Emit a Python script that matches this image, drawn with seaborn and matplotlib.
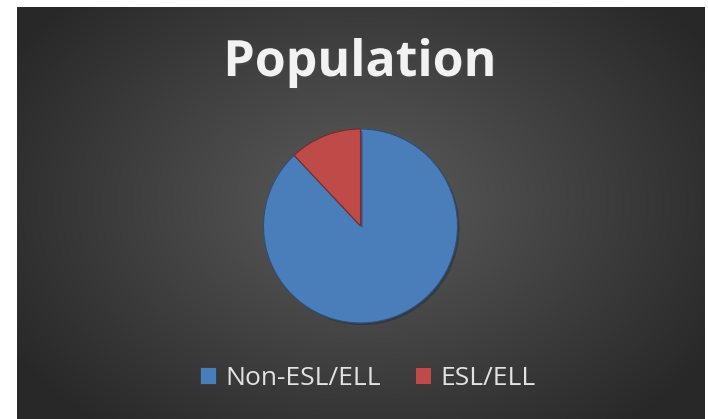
import numpy as np
import matplotlib
matplotlib.use("Agg")
import matplotlib.pyplot as plt
import matplotlib.patheffects as pe
import seaborn as sns
from matplotlib.patches import Patch

# data
groups = ["Non-ESL/ELL", "ESL/ELL"]
shares = [88, 12]
slice_colors = ["#4a7ebb", "#be4b48"]
title = "Population"

sns.set_theme(style="white")
plt.rcParams["font.family"] = ["Open Sans", "DejaVu Sans"]

W, H = 708, 419
fig = plt.figure(figsize=(W / 100, H / 100), dpi=100)
fig.patch.set_facecolor("white")

# dark panel with radial gradient (x 17..705, y 7..419)
x0, x1, y0, y1 = 17, 705, 7, 419
bg = fig.add_axes([x0 / W, 1 - y1 / H, (x1 - x0) / W, (y1 - y0) / H])
yy, xx = np.mgrid[0:200, 0:340]
cx, cy = 170, 95
d = np.sqrt(((xx - cx) / 200.0) ** 2 + ((yy - cy) / 140.0) ** 2)
d = np.clip(d, 0, 1)
light = 0.36 - 0.20 * d
bg.imshow(np.dstack([light, light, light]), aspect="auto", interpolation="bilinear")
bg.set_axis_off()

# pie, centre (360, 226), radius ~97 px
r = 97
cxp, cyp = 360.5, 226
ax = fig.add_axes([(cxp - r) / W, 1 - (cyp + r) / H, 2 * r / W, 2 * r / H])
wedges, _ = ax.pie(shares, colors=slice_colors, startangle=90, counterclock=False,
                   wedgeprops=dict(edgecolor="#2f4f78", linewidth=0.8))
wedges[1].set_edgecolor("#7a2a28")
for w in wedges:
    w.set_clip_on(False)
    w.set_path_effects([pe.SimplePatchShadow(offset=(1.5, -1.5), alpha=0.4), pe.Normal()])
ax.set_aspect("auto")
ax.set_xlim(-1.0, 1.0)
ax.set_ylim(-1.0, 1.0)
ax.set_axis_off()

fig.text(360 / W, 1 - 63 / H, title, ha="center", va="center", fontsize=36,
         fontweight="bold", color="#f2f2f2",
         path_effects=[pe.withSimplePatchShadow(offset=(1.5, -1.5), alpha=0.5)])

handles = [Patch(facecolor=c, edgecolor="#333333", linewidth=0.5) for c in slice_colors]
leg = fig.legend(handles, groups, loc="center", bbox_to_anchor=(368 / W, 1 - 378 / H),
                 ncol=2, frameon=False, fontsize=19, handlelength=0.6, handleheight=0.6,
                 handletextpad=0.35, columnspacing=1.3)
for t in leg.get_texts():
    t.set_color("#e3e3e3")

fig.savefig("out.png", dpi=100)
